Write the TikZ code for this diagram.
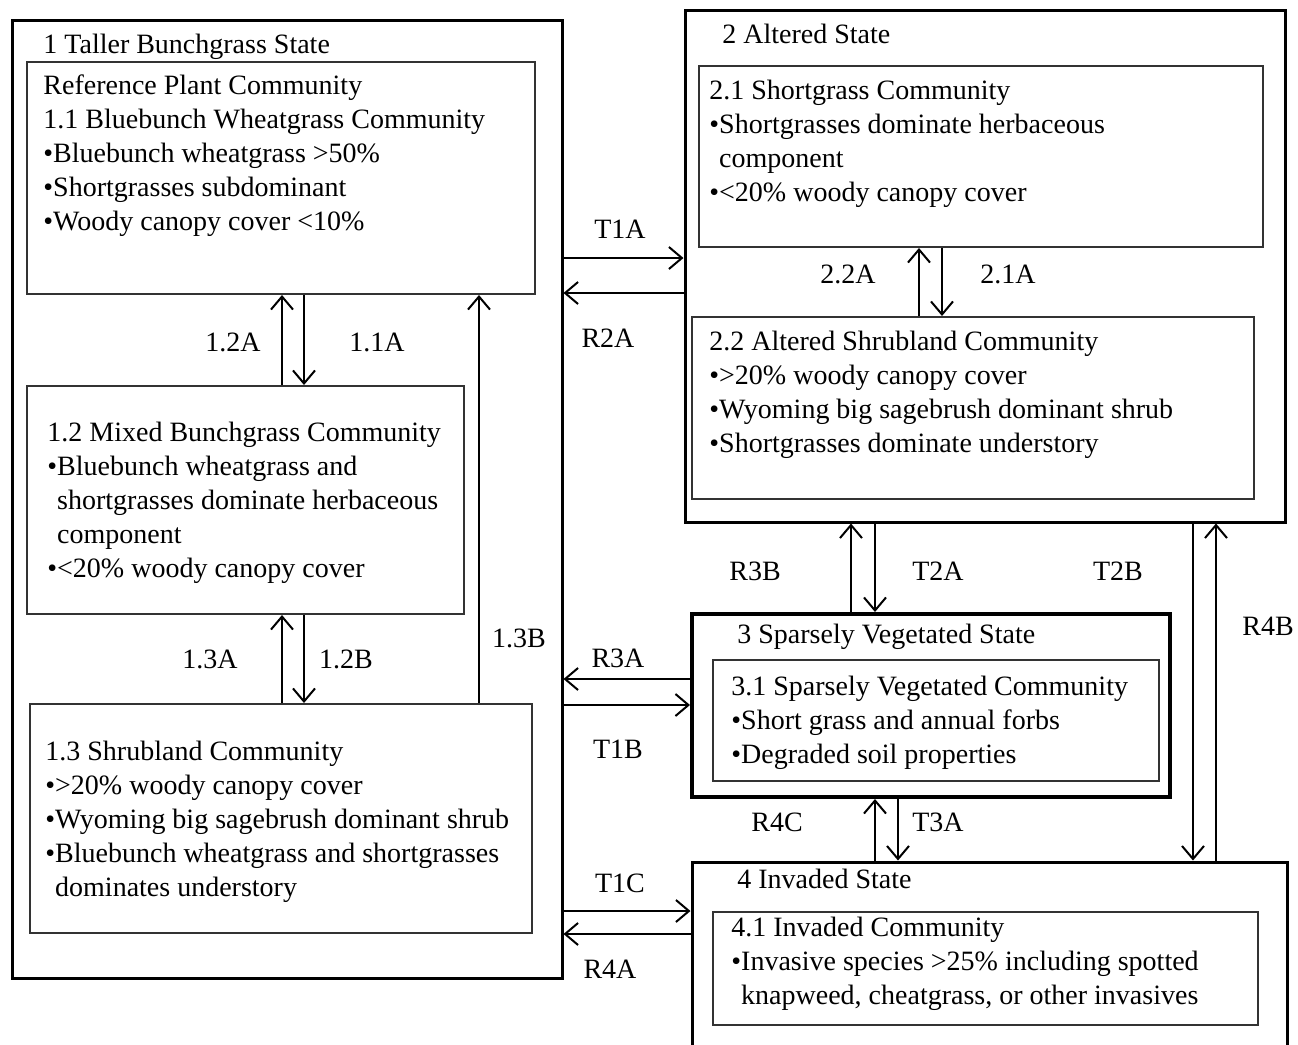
\documentclass[tikz,border=0pt]{standalone}
\usepackage{fontspec}
\setmainfont{Liberation Serif}
\usetikzlibrary{arrows.meta,fit}

\tikzset{
  statebox/.style={draw, line width=1.5pt, inner sep=0pt},
  combox/.style={draw=black!80, line width=1pt, inner sep=0pt},
  txt/.style={anchor=north west, inner sep=0pt, align=left, font=\fontsize{14}{17}\selectfont},
  lab/.style={inner sep=0pt, font=\fontsize{14}{17}\selectfont},
  arr/.style={line width=1pt, -{Straight Barb[length=6.5pt,width=11pt]}}
}
\newcommand{\bul}{\textbullet}
\newcommand{\ind}{\phantom{\textbullet}}

\begin{document}
\begin{tikzpicture}[x=0.5pt,y=-0.5pt]
\useasboundingbox (0,0) rectangle (1298,1045);
\clip (0,0) rectangle (1298,1045);

% States
\node[statebox, fit={(12,20) (562,978)}] (S1) {};
\node[statebox, fit={(685,10) (1285,522)}] (S2) {};
\node[statebox, line width=2pt, fit={(692,614) (1170,797)}] (S3) {};
\node[statebox, fit={(692,862) (1287,1060)}] (S4) {};

\node[txt] (t1) at (43,34) {1 Taller Bunchgrass State};
\node[txt] (t2) at (722,24) {2 Altered State};
\node[txt] (t3) at (737,624) {3 Sparsely Vegetated State};
\node[txt] (t4) at (737,869) {4 Invaded State};

% Communities
\node[combox, fit={(27,62) (535,294)}] (c11) {};
\node[combox, fit={(27,386) (464,614)}] (c12) {};
\node[combox, fit={(30,704) (532,933)}] (c13) {};
\node[combox, fit={(699,66) (1263,247)}] (c21) {};
\node[combox, fit={(692,317) (1254,499)}] (c22) {};
\node[combox, fit={(713,660) (1159,781)}] (c31) {};
\node[combox, fit={(713,912) (1258,1025)}] (c41) {};

\node[txt] (x11) at (43,74) {Reference Plant Community\\
1.1 Bluebunch Wheatgrass Community\\
\bul Bluebunch wheatgrass >50\%\\
\bul Shortgrasses subdominant\\
\bul Woody canopy cover <10\%};

\node[txt] (x12) at (47,422) {1.2 Mixed Bunchgrass Community\\
\bul Bluebunch wheatgrass and\\
\ind shortgrasses dominate herbaceous\\
\ind component\\
\bul <20\% woody canopy cover};

\node[txt] (x13) at (45,741) {1.3 Shrubland Community\\
\bul >20\% woody canopy cover\\
\bul Wyoming big sagebrush dominant shrub\\
\bul Bluebunch wheatgrass and shortgrasses\\
\ind dominates understory};

\node[txt] (x21) at (709,80) {2.1 Shortgrass Community\\
\bul Shortgrasses dominate herbaceous\\
\ind component\\
\bul <20\% woody canopy cover};

\node[txt] (x22) at (709,331) {2.2 Altered Shrubland Community\\
\bul >20\% woody canopy cover\\
\bul Wyoming big sagebrush dominant shrub\\
\bul Shortgrasses dominate understory};

\node[txt] (x31) at (731,676) {3.1 Sparsely Vegetated Community\\
\bul Short grass and annual forbs\\
\bul Degraded soil properties};

\node[txt] (x41) at (731,917) {4.1 Invaded Community\\
\bul Invasive species >25\% including spotted\\
\ind knapweed, cheatgrass, or other invasives};

% Pathways inside state 1
\draw[arr] (c12.north -| 282,0) -- (c11.south -| 282,0);
\draw[arr] (c11.south -| 304,0) -- (c12.north -| 304,0);
\draw[arr] (c13.north -| 282,0) -- (c12.south -| 282,0);
\draw[arr] (c12.south -| 304,0) -- (c13.north -| 304,0);
\draw[arr] (c13.north -| 479,0) -- (c11.south -| 479,0);

% Pathways inside state 2
\draw[arr] (c22.north -| 919,0) -- (c21.south -| 919,0);
\draw[arr] (c21.south -| 942,0) -- (c22.north -| 942,0);

% Transitions and restorations
\draw[arr] (S1.east |- 0,258) -- (S2.west |- 0,258);
\draw[arr] (S2.west |- 0,293) -- (S1.east |- 0,293);
\draw[arr] (S3.west |- 0,679) -- (S1.east |- 0,679);
\draw[arr] (S1.east |- 0,705) -- (S3.west |- 0,705);
\draw[arr] (S1.east |- 0,911) -- (S4.west |- 0,911);
\draw[arr] (S4.west |- 0,934) -- (S1.east |- 0,934);

\draw[arr] (S3.north -| 851,0) -- (S2.south -| 851,0);
\draw[arr] (S2.south -| 875,0) -- (S3.north -| 875,0);
\draw[arr] (S4.north -| 875,0) -- (S3.south -| 875,0);
\draw[arr] (S3.south -| 898,0) -- (S4.north -| 898,0);
\draw[arr] (S2.south -| 1193,0) -- (S4.north -| 1193,0);
\draw[arr] (S4.north -| 1216,0) -- (S2.south -| 1216,0);

% Labels
\node[lab] (l12A) at (233,342) {1.2A};
\node[lab] (l11A) at (377,342) {1.1A};
\node[lab] (l13A) at (210,659) {1.3A};
\node[lab] (l12B) at (346,659) {1.2B};
\node[lab] (l13B) at (519,638) {1.3B};
\node[lab] (l22A) at (848,274) {2.2A};
\node[lab] (l21A) at (1008,274) {2.1A};
\node[lab] (lT1A) at (620,229) {T1A};
\node[lab] (lR2A) at (608,338) {R2A};
\node[lab] (lR3B) at (755,571) {R3B};
\node[lab] (lT2A) at (938,571) {T2A};
\node[lab] (lT2B) at (1118,571) {T2B};
\node[lab] (lR4B) at (1268,626) {R4B};
\node[lab] (lR3A) at (618,658) {R3A};
\node[lab] (lT1B) at (618,749) {T1B};
\node[lab] (lR4C) at (777,822) {R4C};
\node[lab] (lT3A) at (938,822) {T3A};
\node[lab] (lT1C) at (620,883) {T1C};
\node[lab] (lR4A) at (610,969) {R4A};

\end{tikzpicture}
\end{document}
